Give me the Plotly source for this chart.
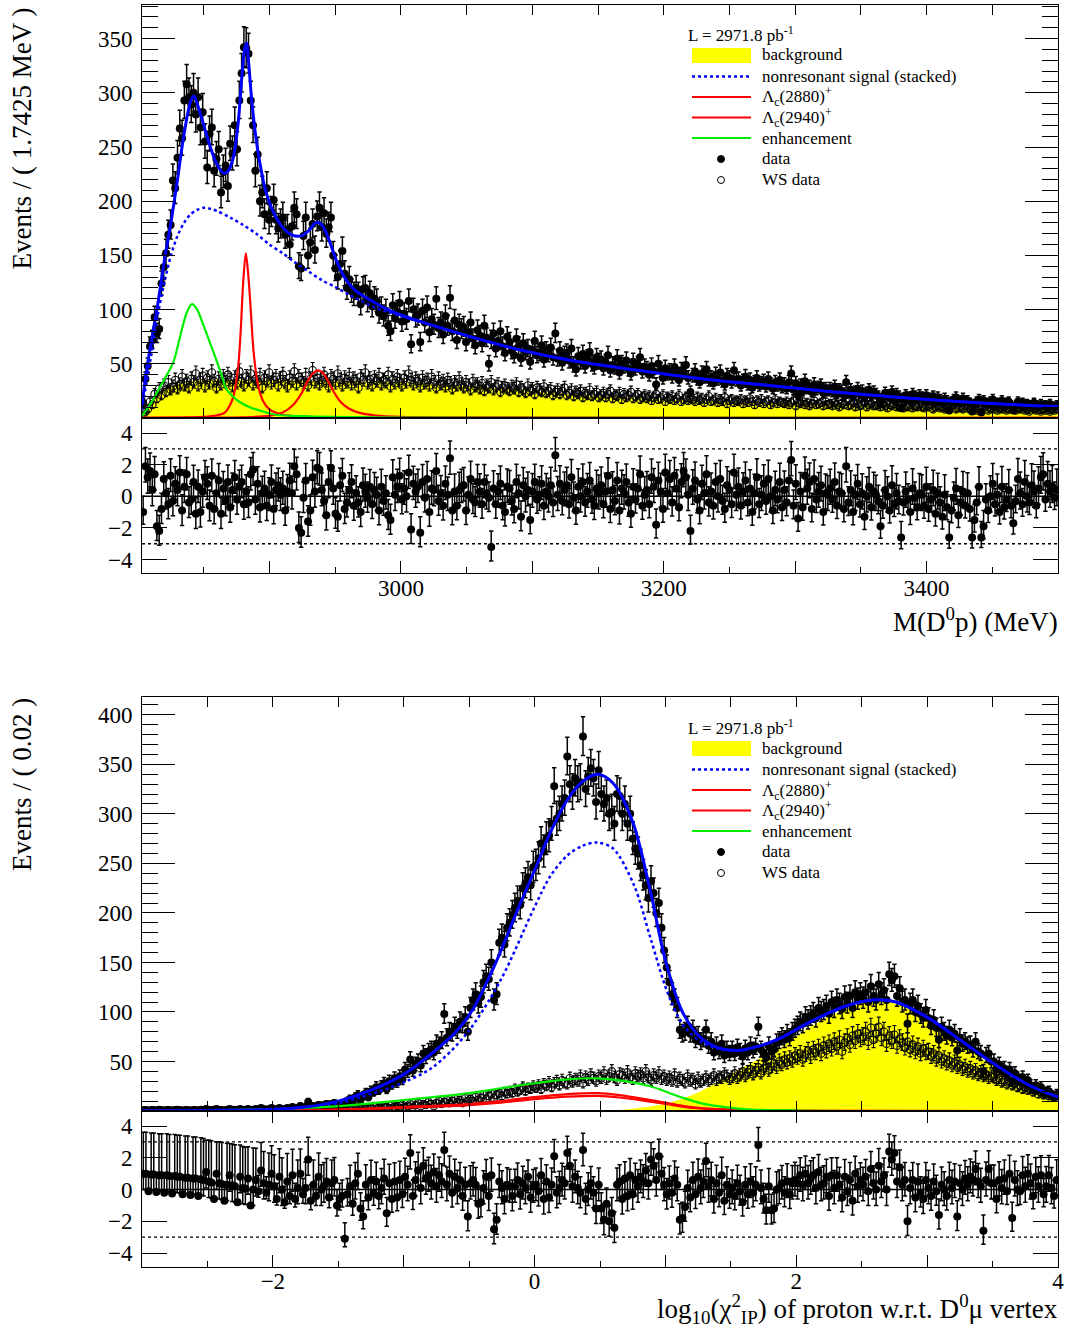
import numpy as np
import plotly.graph_objects as go

W, H = 1065, 1335
FONT = "Liberation Serif"

# ====================== TOP PANEL : M(D0 p) ======================
M_LO, M_HI, M_NBINS = 2803.0, 3500.0, 400

m_data = [
    14, 36, 48, 66, 72, 93, 78, 82, 124, 139, 152, 169, 178, 219, 212, 240, 267, 258, 293, 308,
    296, 289, 300, 280, 296, 268, 282, 255, 231, 262, 268, 228, 239, 248, 208, 227, 233, 214, 253, 244,
    270, 248, 293, 318, 342, 341, 336, 293, 270, 228, 243, 200, 208, 188, 212, 183, 190, 201, 183, 175,
    179, 185, 169, 174, 160, 177, 194, 188, 140, 138, 168, 185, 150, 162, 179, 155, 186, 194, 176, 189,
    170, 176, 185, 150, 138, 130, 142, 154, 133, 120, 128, 117, 114, 120, 114, 105, 119, 120, 108, 115,
    103, 110, 108, 97, 101, 94, 99, 85, 80, 104, 92, 98, 106, 89, 96, 91, 108, 68, 100, 93,
    95, 70, 99, 88, 102, 79, 91, 86, 110, 83, 88, 77, 94, 85, 111, 80, 90, 72, 86, 82,
    84, 70, 79, 88, 73, 67, 81, 76, 69, 85, 74, 50, 72, 78, 64, 71, 80, 66, 60, 75,
    70, 62, 58, 73, 66, 55, 69, 61, 64, 52, 63, 71, 58, 60, 67, 54, 62, 59, 65, 56,
    78, 55, 62, 51, 58, 60, 53, 64, 49, 45, 57, 52, 59, 48, 55, 61, 50, 47, 56, 52,
    54, 46, 51, 58, 44, 49, 47, 55, 42, 50, 48, 53, 45, 41, 52, 46, 49, 56, 43, 47,
    45, 40, 48, 43, 31, 50, 44, 37, 46, 41, 43, 38, 47, 40, 35, 44, 42, 49, 37, 24,
    39, 43, 36, 33, 41, 38, 45, 35, 37, 32, 40, 36, 42, 34, 31, 39, 37, 33, 44, 35,
    36, 30, 34, 38, 31, 35, 28, 33, 37, 30, 32, 34, 29, 36, 31, 27, 33, 30, 35, 28,
    31, 27, 33, 41, 26, 32, 21, 30, 25, 34, 27, 29, 24, 31, 26, 28, 30, 23, 27, 25,
    27, 24, 29, 22, 26, 25, 21, 33, 23, 26, 20, 24, 27, 22, 25, 19, 23, 26, 21, 24,
    22, 20, 13, 18, 23, 21, 19, 24, 17, 22, 20, 9, 18, 21, 19, 16, 22, 20, 17, 21,
    19, 17, 21, 16, 18, 20, 15, 19, 17, 14, 18, 16, 7, 15, 17, 19, 14, 16, 18, 15,
    16, 14, 6, 13, 15, 17, 5, 16, 14, 13, 15, 17, 12, 14, 13, 16, 11, 14, 15, 12,
    7, 11, 15, 12, 14, 10, 13, 12, 11, 14, 12, 10, 13, 11, 12, 9, 13, 11, 10, 12,
]

m_ws = [
    3, 6, 8, 15, 12, 22, 18, 27, 21, 30, 24, 33, 26, 29, 35, 27, 31, 38, 30, 34,
    28, 36, 33, 41, 30, 35, 39, 29, 37, 32, 42, 34, 28, 36, 31, 38, 33, 40, 35, 29,
    37, 32, 43, 34, 30, 38, 35, 41, 31, 36, 33, 39, 28, 37, 34, 42, 32, 35, 38, 30,
    36, 40, 33, 29, 37, 34, 43, 31, 38, 35, 32, 39, 30, 36, 44, 33, 37, 31, 35, 40,
    34, 29, 38, 36, 32, 41, 35, 30, 37, 33, 39, 31, 36, 34, 28, 38, 35, 42, 32, 36,
    30, 37, 34, 39, 31, 35, 33, 40, 29, 36, 32, 38, 34, 30, 37, 33, 41, 35, 31, 36,
    34, 29, 37, 32, 35, 30, 38, 33, 28, 36, 31, 34, 29, 35, 32, 27, 33, 30, 36, 31,
    28, 33, 30, 26, 34, 29, 31, 27, 32, 25, 30, 28, 33, 26, 29, 31, 24, 28, 30, 27,
    25, 29, 27, 31, 24, 28, 26, 23, 30, 25, 27, 22, 28, 26, 24, 29, 23, 25, 27, 21,
    24, 26, 22, 25, 28, 21, 23, 26, 20, 24, 22, 25, 19, 23, 21, 26, 20, 22, 24, 19,
    21, 23, 19, 22, 25, 18, 21, 20, 23, 17, 22, 19, 21, 24, 18, 20, 22, 17, 19, 21,
    18, 20, 16, 19, 22, 17, 18, 21, 15, 19, 17, 20, 16, 18, 21, 15, 17, 19, 16, 18,
    17, 15, 19, 16, 18, 14, 17, 20, 15, 16, 18, 14, 17, 15, 19, 13, 16, 17, 14, 16,
    15, 17, 13, 16, 14, 18, 15, 12, 16, 14, 17, 13, 15, 16, 12, 14, 17, 13, 15, 14,
    13, 15, 12, 14, 16, 11, 14, 13, 15, 12, 14, 11, 13, 16, 12, 13, 14, 11, 15, 12,
    13, 11, 14, 12, 10, 13, 12, 15, 11, 12, 14, 10, 13, 11, 12, 14, 10, 12, 13, 11,
    11, 12, 10, 13, 11, 9, 12, 11, 13, 10, 11, 12, 9, 11, 10, 12, 9, 11, 10, 12,
    10, 9, 11, 10, 12, 8, 10, 11, 9, 10, 8, 11, 9, 10, 12, 8, 9, 10, 8, 11,
    9, 8, 10, 9, 7, 10, 8, 9, 11, 7, 9, 8, 10, 7, 9, 8, 10, 7, 8, 9,
    8, 7, 9, 8, 10, 7, 8, 6, 9, 8, 7, 9, 6, 8, 7, 9, 6, 8, 7, 8,
]

m_pull = [
    -1.0, 1.9, 1.2, 1.6, 0.4, 1.4, -1.9, -2.2, -0.8, 1.1, 0.2, -0.5, 1.3, -0.3, 0.8, 0.4, 1.5, -0.9, 0.6, 1.4,
    -0.4, -0.2, 0.9, -1.1, 0.6, -1.0, 0.3, 1.2, 0.8, -0.6, 1.3, -0.8, 0.2, 1.0, -1.1, 0.5, -0.3, 0.9, -0.7, 0.4,
    1.2, -0.2, 0.6, 0.9, -0.5, 0.3, -0.4, 1.4, 1.7, -0.2, 0.8, -0.7, 0.2, 0.5, -0.6, 0.1, 0.9, -0.8, 0.4, 0.7,
    0.1, 0.5, -0.9, 0.3, 1.0, 0.2, 1.9, 1.4, -2.0, -2.3, -0.1, 1.0, -1.6, -0.9, 1.2, 0.3, 1.8, 1.7, 0.4, -0.3,
    -1.2, 0.9, 1.8, 0.5, -1.1, -1.3, 0.7, 1.3, -0.8, -0.4, 0.4, 0.9, -0.6, 0.2, -0.4, -1.0, 0.7, 0.3, -0.1, 0.6,
    -0.5, 0.4, 0.1, -0.9, 0.6, -0.3, 0.2, -1.2, -1.5, 1.2, 0.1, 0.6, 1.3, -0.2, 0.5, 0.0, 1.5, -2.1, 0.8, 0.3,
    0.6, -2.3, 0.9, -0.1, 1.1, -1.0, 0.5, 0.4, 1.6, -0.3, 0.2, -0.6, 0.8, 0.1, 2.4, -0.9, 0.3, -0.6, 0.4, 0.6,
    0.7, -0.9, 0.1, 1.1, -0.2, -0.4, 0.9, 0.3, -0.5, 0.9, 0.2, -0.1, -3.2, 0.5, -0.5, 0.3, 0.8, -0.6, -1.0, 0.6,
    0.5, -0.3, -0.8, 0.9, 0.2, -1.3, 0.7, 0.0, 0.4, -1.5, 0.3, 0.9, -0.2, 0.1, 0.8, -0.6, 0.3, 0.0, 0.7, -0.4,
    2.6, 0.1, 0.8, -0.3, 0.4, 0.7, -0.5, 1.2, -0.1, -0.9, 0.6, 0.0, 0.9, -0.4, 0.3, 1.0, -0.2, -0.6, 0.5, 0.2,
    0.7, -0.5, 0.3, 1.3, -0.8, 0.4, -0.3, 1.0, -0.9, 0.5, 0.2, 0.9, -0.4, -1.1, 0.6, -0.2, 0.5, 1.4, -0.6, 0.1,
    0.4, -0.5, 1.2, 0.6, -1.8, 1.0, 0.3, -0.8, 1.5, 0.2, 1.1, -0.4, 1.3, 0.5, -0.7, 0.9, 1.6, 1.2, 0.1, -2.2,
    0.5, 1.0, -0.2, -0.9, 0.8, 0.2, 1.4, -0.4, 0.3, -0.6, 0.9, 0.0, 1.1, -0.3, -0.8, 0.7, 0.4, -0.5, 1.5, 0.1,
    0.6, -0.6, 0.3, 1.0, -0.4, 0.5, -1.0, 0.2, 1.2, -0.5, 0.1, 0.8, -0.3, 1.1, 0.0, -0.9, 0.4, -0.2, 0.9, -0.7,
    0.4, -0.4, 1.0, 2.3, -0.6, 0.8, -1.4, 0.3, -0.7, 1.3, 0.5, 0.9, -0.8, 1.1, -0.2, 0.3, 0.7, -1.0, 0.2, 0.1,
    0.5, -0.2, 0.9, -0.6, 0.3, 0.2, -0.8, 1.9, -0.4, 0.4, -1.0, 0.1, 0.8, -0.5, 0.2, -1.3, 0.0, 0.6, -0.7, 0.3,
    0.1, -0.3, -1.9, -0.6, 0.4, 0.0, -0.9, 0.7, -0.5, 0.2, -0.3, -2.6, -0.4, 0.3, -0.2, -1.0, 0.5, -0.1, -0.7, 0.2,
    0.1, -0.6, 0.6, -0.8, -0.2, 0.4, -1.1, 0.2, -0.4, -1.3, 0.1, -0.7, -2.6, -0.9, -0.1, 0.5, -1.2, -0.4, 0.3, -0.6,
    0.2, -0.8, -2.6, -1.5, -0.4, 0.6, -2.6, -1.9, -0.2, -0.9, 0.0, 0.8, -0.5, 0.1, -1.0, 0.6, -0.7, -0.2, 0.4, -0.6,
    -1.7, -0.3, 1.1, 0.2, -0.5, 0.9, 0.0, -0.4, 0.7, 0.3, -0.6, 0.5, 1.2, 1.4, -0.2, 0.8, 0.3, 0.6, -0.1, 0.4,
]

# fit components
m_tot_x = [2803, 2806, 2810, 2815, 2820, 2825, 2830, 2835, 2840, 2842.5, 2845, 2850, 2855, 2860, 2865, 2868,
           2872, 2876, 2879, 2881, 2882.5, 2884, 2886, 2889, 2892, 2897, 2903, 2910, 2917, 2924, 2930, 2935,
           2938, 2942, 2946, 2951, 2958, 2965, 2975, 2990, 3000, 3020, 3050, 3090, 3130, 3180, 3230, 3280,
           3330, 3380, 3440, 3500]
m_tot_y = [12, 40, 70, 105, 145, 180, 220, 262, 292, 297, 290, 270, 250, 234, 226, 227,
           238, 270, 315, 340, 346, 330, 300, 265, 240, 210, 190, 176, 169, 168, 173, 180,
           180, 174, 162, 145, 128, 118, 110, 100, 95, 87, 76, 63, 53, 44, 36, 30,
           24, 19, 14, 10.5]
m_stk_x = [2803, 2806, 2810, 2815, 2820, 2825, 2830, 2835, 2840, 2845, 2850, 2855, 2860, 2870, 2880, 2890,
           2900, 2910, 2920, 2930, 2940, 2950, 2960, 2970, 2980, 2990, 3000, 3020, 3050, 3090, 3130, 3180,
           3230, 3280, 3330, 3380, 3440, 3500]
m_stk_y = [8, 30, 58, 95, 125, 150, 168, 180, 188, 192, 194, 193, 191, 185, 178, 170,
           160, 152, 143, 135, 127, 121, 114, 108, 102, 98, 94, 87, 76, 63, 53, 44,
           36, 30, 24, 19, 14, 10.5]
m_bkg_x = [2803, 2808, 2815, 2825, 2835, 2850, 2900, 2950, 3000, 3050, 3090, 3130, 3180, 3230, 3280, 3330,
           3380, 3440, 3500]
m_bkg_y = [0, 10, 22, 29, 33, 35, 35, 34, 33, 29.5, 26, 22, 18.5, 16, 14, 12.5,
           10.5, 8.5, 6.5]
m_lc1_x = [2803, 2840, 2850, 2860, 2866, 2870, 2873, 2876, 2878, 2880, 2882, 2884, 2886, 2888, 2891, 2895,
           2900, 2910, 2930, 2960, 3000, 3500]
m_lc1_y = [0.2, 0.6, 1.0, 2.5, 5, 12, 22, 45, 78, 125, 152, 130, 95, 60, 32, 16,
           8, 3, 1, 0.5, 0.3, 0.05]
m_lc2_x = [2803, 2860, 2880, 2900, 2910, 2918, 2924, 2929, 2933, 2937, 2941, 2945, 2949, 2954, 2960, 2968,
           2980, 3000, 3040, 3100, 3500]
m_lc2_y = [0.1, 0.3, 0.6, 2, 5, 12, 22, 34, 41, 44, 41, 33, 24, 15, 9, 5,
           2.5, 1, 0.4, 0.2, 0.05]
m_enh_x = [2803, 2809, 2816, 2822, 2827, 2832, 2837, 2841, 2845, 2849, 2853, 2857, 2860, 2864, 2867, 2872,
           2877, 2885, 2895, 2905, 2930, 2960, 3000, 3100, 3500]
m_enh_y = [2, 12, 27, 40, 52, 75, 97, 105, 100, 88, 75, 62, 52, 38, 27, 20,
           15, 10, 6, 3, 1.5, 0.8, 0.4, 0.1, 0]

# ====================== BOTTOM PANEL : log10(chi2_IP) ======================
C_LO, C_HI, C_NBINS = -3.0, 4.0, 350

c_data = [
    1, 1, 0, 1, 1, 0, 1, 1, 0, 1, 1, 0, 1, 1, 1, 0, 1, 1, 0, 1, 1, 0, 1, 1, 2,
    1, 1, 0, 2, 1, 1, 0, 1, 2, 1, 1, 0, 2, 1, 1, 2, 0, 1, 2, 1, 3, 2, 1, 2, 3,
    2, 1, 3, 2, 1, 3, 2, 4, 2, 3, 5, 3, 4, 9, 3, 5, 4, 6, 5, 6, 7, 5, 7, 8, 6,
    7, 8, 2, 10, 12, 9, 14, 16, 11, 15, 18, 14, 20, 19, 24, 21, 25, 28, 22, 30, 27, 33, 29, 35, 32,
    42, 40, 52, 41, 47, 50, 46, 58, 55, 60, 62, 59, 68, 66, 71, 98, 74, 80, 79, 85, 82, 90, 88, 95, 80,
    104, 112, 118, 109, 115, 130, 136, 133, 150, 112, 118, 170, 175, 168, 185, 190, 198, 205, 212, 208, 225, 230, 236, 228, 246,
    248, 255, 270, 262, 275, 278, 290, 328, 295, 300, 310, 316, 358, 330, 322, 336, 330, 332, 378, 325, 338, 346, 336, 312, 344,
    320, 310, 316, 300, 302, 290, 320, 318, 300, 310, 290, 300, 275, 265, 260, 248, 238, 228, 215, 232, 220, 200, 210, 185, 162,
    145, 130, 118, 112, 104, 82, 78, 80, 86, 78, 82, 72, 76, 70, 73, 82, 66, 70, 59, 66, 60, 68, 56, 62, 58,
    62, 58, 64, 60, 55, 63, 59, 66, 61, 65, 85, 62, 58, 54, 66, 60, 62, 69, 71, 75, 72, 78, 74, 80, 83,
    86, 90, 88, 95, 92, 96, 99, 94, 104, 100, 102, 106, 98, 110, 104, 112, 108, 103, 115, 109, 116, 104, 120, 113, 118,
    114, 120, 110, 126, 116, 112, 128, 118, 122, 112, 138, 132, 136, 116, 124, 110, 112, 88, 108, 112, 100, 106, 98, 94, 102,
    94, 86, 92, 84, 72, 85, 80, 76, 82, 74, 78, 61, 74, 68, 70, 66, 67, 62, 70, 60, 58, 40, 56, 58, 50,
    50, 42, 47, 41, 43, 37, 42, 30, 38, 33, 31, 34, 28, 31, 26, 22, 26, 22, 24, 18, 19, 20, 16, 14, 17,
]

c_ws = [
    0, 0, 0, 0, 0, 0, 1, 0, 0, 0, 0, 0, 0, 1, 0, 0, 0, 0, 0, 0, 0, 0, 1, 0, 0,
    0, 0, 1, 0, 0, 0, 0, 1, 0, 0, 1, 0, 0, 0, 1, 0, 0, 1, 0, 0, 1, 0, 0, 1, 0,
    1, 0, 0, 1, 0, 1, 2, 0, 1, 1, 0, 2, 1, 0, 1, 2, 1, 0, 2, 1, 1, 3, 1, 2, 1,
    2, 1, 3, 2, 1, 3, 2, 4, 2, 3, 2, 4, 3, 5, 2, 4, 3, 5, 4, 3, 6, 4, 5, 3, 6,
    4, 5, 7, 4, 6, 8, 5, 7, 6, 9, 7, 5, 8, 10, 7, 9, 11, 8, 10, 12, 9, 11, 8, 13, 10,
    12, 10, 14, 11, 13, 16, 12, 15, 17, 13, 16, 18, 15, 19, 17, 20, 18, 22, 19, 21, 24, 20, 23, 22, 25,
    23, 26, 22, 27, 25, 29, 24, 28, 30, 26, 31, 28, 27, 33, 29, 32, 30, 35, 28, 34, 31, 36, 33, 30, 35,
    33, 38, 32, 35, 40, 34, 31, 37, 36, 33, 39, 34, 32, 38, 35, 37, 33, 40, 34, 31, 36, 33, 38, 32, 35,
    31, 34, 30, 36, 29, 33, 31, 28, 35, 30, 32, 27, 33, 29, 31, 34, 30, 32, 36, 31, 34, 33, 37, 35, 32,
    34, 38, 33, 36, 40, 35, 39, 42, 37, 41, 44, 38, 43, 46, 41, 45, 48, 44, 50, 47, 52, 49, 53, 51, 56,
    54, 58, 52, 57, 61, 55, 62, 59, 64, 58, 66, 61, 68, 63, 70, 65, 72, 60, 69, 74, 67, 76, 71, 78, 73,
    75, 80, 70, 84, 72, 78, 85, 74, 80, 68, 76, 71, 77, 66, 73, 69, 64, 70, 62, 67, 60, 65, 58, 63, 59,
    60, 55, 58, 52, 56, 50, 53, 48, 51, 46, 49, 44, 47, 42, 45, 40, 43, 38, 41, 36, 39, 35, 37, 33, 35,
    34, 31, 33, 29, 31, 27, 30, 26, 28, 24, 26, 22, 24, 21, 22, 19, 21, 17, 19, 16, 17, 15, 16, 14, 15,
]

c_pull = [
    1.0, 1.0, -0.1, 0.95, 0.95, -0.15, 0.9, 0.9, -0.2, 0.9, 0.85, -0.25, 0.85, 0.8, 0.8, -0.3, 0.75, 0.75, -0.35, 0.7, 0.7, -0.4, 0.65, 0.6, 1.1,
    0.5, 0.45, -0.6, 1.0, 0.4, 0.35, -0.7, 0.3, 0.9, 0.25, 0.2, -0.8, 0.8, 0.1, 0.05, 0.7, -1.0, 0.0, 0.6, -0.1, 1.2, 0.4, -0.2, 0.3, 1.0,
    0.2, -0.6, 0.8, 0.0, -0.8, 0.5, -0.4, 0.9, -0.6, 0.1, 1.0, -0.3, 0.1, 1.9, -0.7, 0.3, -0.4, 0.8, 0.0, 0.2, 0.5, -0.5, 0.4, 0.6, -1.0,
    -0.6, -0.4, -3.1, -0.3, 0.2, -0.9, 0.4, 1.0, -1.2, -1.7, 0.3, -0.5, 0.6, -0.2, 0.5, -0.4, 0.1, 0.7, -1.5, 0.4, -0.6, 0.5, -0.5, 0.6, -0.3,
    0.8, 0.3, 2.3, -0.4, 0.6, 1.2, 0.1, 1.5, 0.7, 0.9, 0.4, 1.1, 0.2, 0.9, 0.5, 2.5, 0.3, 1.0, -0.2, 0.8, 0.1, 0.6, -0.4, 0.3, -1.7,
    0.4, 0.6, 0.3, -0.9, -0.8, 0.1, 0.8, -0.4, 0.9, -2.5, -1.9, 0.5, 0.1, -0.6, 0.3, 0.2, -0.4, 0.2, 0.6, -0.3, 0.4, 0.1, 0.8, -0.5, 0.2,
    0.3, -0.1, 0.9, -0.6, 0.5, -0.5, 0.3, 2.1, -0.2, 0.1, 0.6, 0.4, 2.3, 1.5, 0.2, 0.8, 0.1, -0.2, 2.5, -0.6, 0.0, 0.4, -0.2, -1.2, 0.3,
    -1.2, -1.9, -0.9, -2.0, -1.5, -2.4, 0.3, 0.5, -0.6, 0.7, -0.4, 0.9, -0.3, 0.6, 0.2, 0.8, 0.5, 1.2, 0.4, 1.9, 1.5, 0.6, 2.1, 1.0, 0.3,
    -0.3, 0.4, -0.2, 0.7, 0.3, -1.9, -1.8, -1.1, 0.1, -0.5, 0.6, -0.3, 0.8, 0.1, 0.5, 1.8, 0.2, 0.6, -0.6, 0.4, -0.2, 0.9, -0.7, 0.3, -0.3,
    0.1, -0.4, 0.4, -0.1, -0.8, 0.3, -0.3, 0.5, -0.2, 0.3, 2.8, 0.1, -0.6, -1.3, 0.2, -1.3, -1.2, 0.0, 0.1, 0.4, -0.2, 0.5, -0.3, 0.4, 0.6,
    0.4, 0.9, 0.3, 1.0, 0.4, 0.7, 0.9, 0.1, 1.1, 0.3, 0.4, 0.8, -0.4, 0.9, 0.1, 0.9, 0.3, -0.5, 0.8, -0.1, 0.6, -0.7, 1.0, 0.2, 0.6,
    0.3, 0.8, -0.1, 1.3, 0.4, 0.0, 1.5, 0.5, 0.9, 0.0, 2.4, 1.9, 2.3, 0.5, 1.4, 0.3, 0.6, -2.0, 0.1, 0.6, -0.5, 0.5, -0.2, -0.6, 0.6,
    0.1, -0.4, 0.5, -0.1, -1.6, 0.3, 0.0, -0.4, 0.6, 0.1, 0.5, -1.7, 0.4, 0.0, 0.7, 0.3, 0.8, 0.6, 1.3, 0.5, 0.2, -2.6, 0.6, 1.3, 0.4,
    0.4, -0.6, 0.6, 0.1, 0.7, -0.1, 1.0, -1.8, 0.6, 0.0, -0.1, 0.9, 0.2, 1.0, 0.4, -0.4, 0.8, 0.2, 0.9, -0.3, 0.2, 0.9, 0.1, -0.4, 0.6,
]

c_tot_x = [-3.0, -2.5, -2.0, -1.75, -1.5, -1.25, -1.0, -0.75, -0.6, -0.47, -0.34, -0.26, -0.13, 0.0, 0.12, 0.25,
           0.37, 0.48, 0.6, 0.75, 0.88, 1.0, 1.13, 1.27, 1.4, 1.55, 1.7, 1.87, 2.12, 2.38, 2.58, 2.76,
           3.02, 3.27, 3.53, 3.78, 4.0]
c_tot_y = [0.2, 0.6, 1.8, 4, 10, 21, 37, 62, 80, 103, 137, 161, 203, 243, 281, 314,
           333, 340, 331, 292, 225, 152, 100, 74, 64, 61, 65, 73, 91, 106, 112, 110,
           93, 70, 46, 26, 14]
c_stk_x = [-3.0, -2.5, -2.0, -1.75, -1.5, -1.25, -1.0, -0.78, -0.52, -0.26, 0.0, 0.12, 0.25, 0.37, 0.48, 0.6,
           0.76, 0.885, 1.015, 1.14, 1.27, 1.4, 1.55, 1.7, 1.87, 2.12, 2.38, 2.58, 2.76, 3.02, 3.27, 3.53,
           3.78, 4.0]
c_stk_y = [0.2, 0.5, 1.5, 3.3, 8, 17, 29, 44, 78, 132, 206, 237, 258, 268, 271, 265,
           228, 175, 120, 86, 70, 63, 61, 65, 73, 91, 106, 112, 110, 93, 70, 46,
           26, 14]
c_bkg_x = [0.55, 0.8, 1.02, 1.27, 1.51, 1.72, 1.87, 2.12, 2.38, 2.58, 2.76, 3.02, 3.27, 3.53, 3.78, 4.0]
c_bkg_y = [0, 3, 8, 20, 38, 53, 63, 86, 103, 111, 109, 90, 66, 43, 23, 13]
c_lc_x = [-3.0, -2.0, -1.5, -1.0, -0.5, -0.26, 0.0, 0.25, 0.48, 0.65, 0.885, 1.015, 1.14, 1.27, 1.4, 1.6, 2.0, 4.0]
c_lc1_y = [0.05, 0.5, 1.5, 4, 7, 10, 14, 17, 18, 16, 11, 8, 5, 3, 2, 0.7, 0.1, 0]
c_lc2_y = [0.04, 0.4, 1.3, 3.4, 6, 8.5, 12, 14.5, 15.3, 13.6, 9.4, 6.8, 4.2, 2.5, 1.6, 0.6, 0.1, 0]
c_enh_x = [-3.0, -2.5, -2.0, -1.5, -1.0, -0.5, -0.26, 0.0, 0.25, 0.48, 0.65, 0.885, 1.015, 1.14, 1.27, 1.4, 1.6, 2.0, 4.0]
c_enh_y = [0.2, 0.7, 2, 5, 11, 18, 23, 28, 32, 33, 31, 25, 19, 13, 8, 5, 2, 0.5, 0]

assert len(m_data) == M_NBINS and len(m_ws) == M_NBINS and len(m_pull) == M_NBINS, (len(m_data), len(m_ws), len(m_pull))
assert len(c_data) == C_NBINS and len(c_ws) == C_NBINS and len(c_pull) == C_NBINS, (len(c_data), len(c_ws), len(c_pull))

# ====================== helpers ======================
def centers(lo, hi, n):
    return lo + (np.arange(n) + 0.5) * (hi - lo) / n

def poisson_err(n):
    n = np.asarray(n, float)
    s = np.sqrt(n + 0.25)
    return s + 0.5, s - 0.5          # (up, down)

def pull_err(n, p):
    up_n, dn_n = poisson_err(n)
    p = np.asarray(p, float)
    ratio_up = np.divide(up_n, dn_n, out=np.ones_like(up_n), where=dn_n > 0)
    up = np.where(p >= 0, ratio_up, 1.0)
    dn = np.where(p >= 0, 1.0, dn_n / up_n)
    return up, dn

def py(v):
    return 1 - v / H

def px(v):
    return v / W

FX = [px(142), px(1058)]
TOP_MAIN = [py(418), py(5)]
TOP_PULL = [py(573), py(418)]
BOT_MAIN = [py(1111), py(697)]
BOT_PULL = [py(1266.5), py(1111)]
PULL_RANGE = [-4.85, 4.95]

fig = go.Figure()

def add_panel(xa, ya, xp, yp, xc, data, ws, pull, curves, bkg):
    bx, by = bkg
    fig.add_trace(go.Scatter(x=bx, y=by, mode="lines", line=dict(color="#ffff00", width=0, shape="spline"),
                             fill="tozeroy", fillcolor="#ffff00", xaxis=xa, yaxis=ya, showlegend=False))
    up, dn = poisson_err(ws)
    fig.add_trace(go.Scatter(x=xc, y=ws, mode="markers", xaxis=xa, yaxis=ya, showlegend=False,
                             marker=dict(symbol="circle-open", size=7.5, color="black", line=dict(width=1.1, color="black")),
                             error_y=dict(type="data", symmetric=False, array=up, arrayminus=dn,
                                          color="black", thickness=1.1, width=2)))
    up, dn = poisson_err(data)
    fig.add_trace(go.Scatter(x=xc, y=data, mode="markers", xaxis=xa, yaxis=ya, showlegend=False,
                             marker=dict(symbol="circle", size=8, color="black"),
                             error_y=dict(type="data", symmetric=False, array=up, arrayminus=dn,
                                          color="black", thickness=1.5, width=2.2)))
    for (cx, cy, col, dash, wd) in curves:
        fig.add_trace(go.Scatter(x=cx, y=cy, mode="lines", xaxis=xa, yaxis=ya, showlegend=False,
                                 line=dict(color=col, dash=dash, width=wd, shape="spline", smoothing=0.9)))
    up, dn = pull_err(data, pull)
    fig.add_trace(go.Scatter(x=xc, y=pull, mode="markers", xaxis=xp, yaxis=yp, showlegend=False,
                             marker=dict(symbol="circle", size=8, color="black"),
                             error_y=dict(type="data", symmetric=False, array=up, arrayminus=dn,
                                          color="black", thickness=1.5, width=2.2)))

m_x = centers(M_LO, M_HI, M_NBINS)
c_x = centers(C_LO, C_HI, C_NBINS)

add_panel("x", "y", "x2", "y2", m_x, m_data, m_ws, m_pull,
          [(m_stk_x, m_stk_y, "#0000ff", "dot", 2.5),
           (m_lc1_x, m_lc1_y, "#ff0000", "solid", 2.2),
           (m_lc2_x, m_lc2_y, "#ff0000", "solid", 2.2),
           (m_enh_x, m_enh_y, "#00ee00", "solid", 2.2),
           (m_tot_x, m_tot_y, "#0000ff", "solid", 3)],
          (m_bkg_x, m_bkg_y))
add_panel("x3", "y3", "x4", "y4", c_x, c_data, c_ws, c_pull,
          [(c_stk_x, c_stk_y, "#0000ff", "dot", 2.5),
           (c_lc_x, c_lc1_y, "#ff0000", "solid", 2.2),
           (c_lc_x, c_lc2_y, "#ff0000", "solid", 2.2),
           (c_enh_x, c_enh_y, "#00ee00", "solid", 2.2),
           (c_tot_x, c_tot_y, "#0000ff", "solid", 3)],
          (c_bkg_x, c_bkg_y))

tickfont = dict(family=FONT, size=23, color="black")
frame = dict(showline=True, linecolor="black", linewidth=1, mirror="allticks", ticks="inside",
             tickcolor="black", showgrid=False, zeroline=False, tickfont=tickfont, automargin=False)

layout = dict(
    width=W, height=H, autosize=False, margin=dict(l=0, r=0, t=0, b=0, autoexpand=False),
    paper_bgcolor="white", plot_bgcolor="white", showlegend=False,
    font=dict(family=FONT, color="black"),
    # top main
    xaxis=dict(frame, domain=FX, range=[M_LO, M_HI], anchor="y", showticklabels=False,
               tick0=2800, dtick=50, ticklen=10),
    yaxis=dict(frame, domain=TOP_MAIN, range=[0, 381], anchor="x", tickmode="array",
               tickvals=[50, 100, 150, 200, 250, 300, 350], ticklen=33, ticklabelstandoff=4,
               minor=dict(tick0=0, dtick=10, ticklen=16, ticks="inside", tickcolor="black")),
    # top pull
    xaxis2=dict(frame, domain=FX, range=[M_LO, M_HI], anchor="y2", tickmode="array",
                tickvals=[2900, 3000, 3100, 3200, 3300, 3400, 3500],
                ticktext=["", "3000", "", "3200", "", "3400", ""], ticklen=12, ticklabelstandoff=-6,
                minor=dict(tick0=2800, dtick=50, ticklen=6, ticks="inside", tickcolor="black")),
    yaxis2=dict(frame, domain=TOP_PULL, range=PULL_RANGE, anchor="x2", tickmode="array",
                tickvals=[-4, -2, 0, 2, 4], ticktext=["\u22124", "\u22122", "0", "2", "4"],
                ticklen=25, ticklabelstandoff=4),
    # bottom main
    xaxis3=dict(frame, domain=FX, range=[C_LO, C_HI], anchor="y3", showticklabels=False,
                tick0=-3, dtick=0.5, ticklen=10),
    yaxis3=dict(frame, domain=BOT_MAIN, range=[0, 418], anchor="x3", tickmode="array",
                tickvals=[50, 100, 150, 200, 250, 300, 350, 400], ticklen=33, ticklabelstandoff=4,
                minor=dict(tick0=0, dtick=10, ticklen=16, ticks="inside", tickcolor="black")),
    # bottom pull
    xaxis4=dict(frame, domain=FX, range=[C_LO, C_HI], anchor="y4", tickmode="array",
                tickvals=[-3, -2, -1, 0, 1, 2, 3, 4],
                ticktext=["", "\u22122", "", "0", "", "2", "", "4"], ticklen=12, ticklabelstandoff=-6,
                minor=dict(tick0=-3, dtick=0.5, ticklen=6, ticks="inside", tickcolor="black")),
    yaxis4=dict(frame, domain=BOT_PULL, range=PULL_RANGE, anchor="x4", tickmode="array",
                tickvals=[-4, -2, 0, 2, 4], ticktext=["\u22124", "\u22122", "0", "2", "4"],
                ticklen=25, ticklabelstandoff=4),
)
fig.update_layout(**layout)

shapes = []
annotations = []
# pull reference lines
for (xr, yr, lo, hi) in [("x2", "y2", M_LO, M_HI), ("x4", "y4", C_LO, C_HI)]:
    shapes.append(dict(type="line", xref=xr, yref=yr, x0=lo, x1=hi, y0=0, y1=0,
                       line=dict(color="black", width=1.5), layer="below"))
    for lv in (3, -3):
        shapes.append(dict(type="line", xref=xr, yref=yr, x0=lo, x1=hi, y0=lv, y1=lv,
                           line=dict(color="black", width=1.3, dash="dot"), layer="below"))

# legends (drawn in paper pixels)
def legend(dy):
    sh, an = [], []
    lf = dict(family=FONT, size=17, color="black")
    an.append(dict(x=px(686), y=py(34 + dy), xref="paper", yref="paper", xanchor="left", yanchor="middle",
                   text="L = 2971.8 pb<sup>-1</sup>", showarrow=False, font=lf))
    sh.append(dict(type="rect", xref="paper", yref="paper", x0=px(692), x1=px(751), y0=py(63 + dy), y1=py(48 + dy),
                   fillcolor="#ffff00", line=dict(width=0)))
    sh.append(dict(type="line", xref="paper", yref="paper", x0=px(692), x1=px(751), y0=py(76.5 + dy), y1=py(76.5 + dy),
                   line=dict(color="#0000ff", width=2.5, dash="dot")))
    for yy, col in [(97, "#ff0000"), (117.5, "#ff0000"), (138, "#00ee00")]:
        sh.append(dict(type="line", xref="paper", yref="paper", x0=px(692), x1=px(751), y0=py(yy + dy), y1=py(yy + dy),
                       line=dict(color=col, width=2.2)))
    r = 3.5
    sh.append(dict(type="circle", xref="paper", yref="paper", x0=px(721 - r), x1=px(721 + r),
                   y0=py(159 + dy + r), y1=py(159 + dy - r), fillcolor="black", line=dict(color="black", width=1)))
    sh.append(dict(type="circle", xref="paper", yref="paper", x0=px(721 - r), x1=px(721 + r),
                   y0=py(180 + dy + r), y1=py(180 + dy - r), fillcolor="rgba(0,0,0,0)", line=dict(color="black", width=1)))
    for yy, t in [(55, "background"), (76.5, "nonresonant signal (stacked)"),
                  (97, "\u039b<sub>c</sub>(2880)<sup>+</sup>"), (117.5, "\u039b<sub>c</sub>(2940)<sup>+</sup>"),
                  (138, "enhancement"), (158.5, "data"), (179.5, "WS data")]:
        an.append(dict(x=px(760), y=py(yy + dy), xref="paper", yref="paper", xanchor="left", yanchor="middle",
                       text=t, showarrow=False, font=lf))
    return sh, an

for dy in (0, 693):
    s, a = legend(dy)
    shapes += s
    annotations += a

tf = dict(family=FONT, size=27, color="black")
annotations += [
    dict(x=px(22), y=py(138.5), xref="paper", yref="paper", text="Events / ( 1.7425 MeV )", textangle=-90,
         showarrow=False, font=tf, xanchor="center", yanchor="middle"),
    dict(x=px(22), y=py(785), xref="paper", yref="paper", text="Events / ( 0.02 )", textangle=-90,
         showarrow=False, font=tf, xanchor="center", yanchor="middle"),
    dict(x=px(1060), y=py(620), xref="paper", yref="paper", text="M(D<sup>0</sup>p) (MeV)",
         showarrow=False, font=tf, xanchor="right", yanchor="middle"),
    dict(x=px(1060), y=py(1309), xref="paper", yref="paper",
         text="log<sub>10</sub>(\u03c7<sup>2</sup><sub>IP</sub>) of proton w.r.t. D<sup>0</sup>\u03bc vertex",
         showarrow=False, font=tf, xanchor="right", yanchor="middle"),
]
fig.update_layout(shapes=shapes, annotations=annotations)

post = ("document.documentElement.style.overflow='hidden';"
        "document.body.style.overflow='hidden';document.body.style.margin='0';")
fig.write_html("out.html", config={"responsive": False}, post_script=post)
